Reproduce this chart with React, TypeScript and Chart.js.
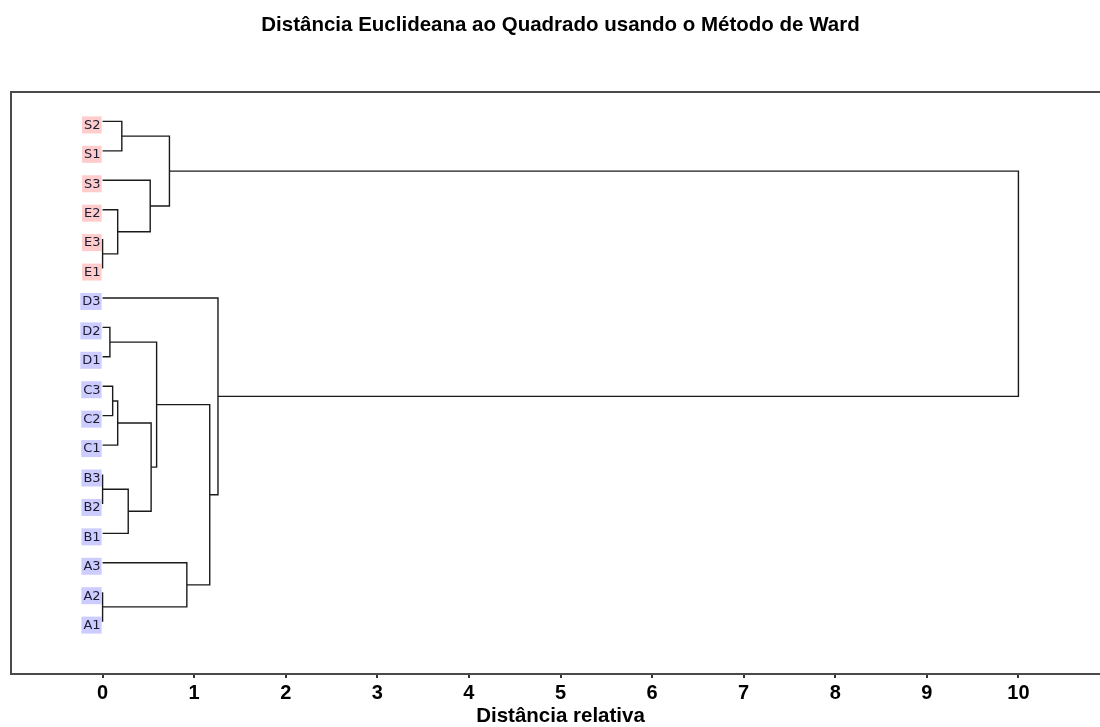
import React, { useEffect, useRef } from 'react';
import { Chart, registerables } from 'chart.js';

Chart.register(...registerables);

const chartTitle = 'Distância Euclideana ao Quadrado usando o Método de Ward';
const axisTitle = 'Distância relativa';

// Leaves in dendrogram order, top to bottom
const leafLabels = ['S2', 'S1', 'S3', 'E2', 'E3', 'E1', 'D3', 'D2', 'D1', 'C3', 'C2', 'C1', 'B3', 'B2', 'B1', 'A3', 'A2', 'A1'];
// 0 = S/E group, 1 = A–D group
const leafGroups = [0, 0, 0, 0, 0, 0, 1, 1, 1, 1, 1, 1, 1, 1, 1, 1, 1, 1];
const groupFill = ['#ffcccc', '#ccccff'];

// Ward merge table: negative = leaf -(index+1), positive = earlier merge (1-based)
const mergeLeft = [-5, -13, -17, -8, -10, -4, 5, -1, 2, -3, 7, 4, 8, -16, 12, -7, 13];
const mergeRight = [-6, -14, -18, -9, -11, 1, -12, -2, -15, 6, 9, 11, 10, 3, 14, 15, 16];
const mergeHeight = [0, 0, 0, 0.08, 0.11, 0.165, 0.165, 0.21, 0.28, 0.52, 0.53, 0.59, 0.73, 0.92, 1.17, 1.26, 10.0];

const xTickValues = [0, 1, 2, 3, 4, 5, 6, 7, 8, 9, 10];

const FONT = '"Liberation Sans", Arial, sans-serif';
const LINE_COLOR = '#1a1a1a';
const FRAME_COLOR = '#4a4a4a';

// Build one U-shaped link per merge; a cluster sits midway between its children
function buildLinks() {
  const nodeY: number[] = [];
  const nodeH: number[] = [];
  const ref = (r: number) => (r < 0 ? { y: -r - 1, h: 0 } : { y: nodeY[r - 1], h: nodeH[r - 1] });
  return mergeHeight.map((H, i) => {
    const l = ref(mergeLeft[i]);
    const r = ref(mergeRight[i]);
    nodeY[i] = (l.y + r.y) / 2;
    nodeH[i] = H;
    return {
      data: [
        { x: l.h, y: l.y },
        { x: H, y: l.y },
        { x: H, y: r.y },
        { x: r.h, y: r.y },
      ],
      showLine: true,
      borderColor: LINE_COLOR,
      borderWidth: 1.4,
      pointRadius: 0,
      pointHoverRadius: 0,
      tension: 0,
      fill: false,
    };
  });
}

// Coloured leaf labels just left of distance 0
const leafLabelPlugin = {
  id: 'leafLabels',
  beforeDatasetsDraw(chart: any) {
    const { ctx, scales } = chart;
    const xs = scales.x;
    const ys = scales.y;
    const x0 = xs.getPixelForValue(0);
    ctx.save();
    ctx.font = '13px "DejaVu Sans", sans-serif';
    ctx.textAlign = 'right';
    ctx.textBaseline = 'middle';
    leafLabels.forEach((lab, i) => {
      const py = ys.getPixelForValue(i) + 3.5;
      const w = ctx.measureText(lab).width + 3;
      ctx.fillStyle = groupFill[leafGroups[i]];
      ctx.fillRect(x0 - 1 - w, py - 8.5, w, 17);
      ctx.fillStyle = '#1b1b33';
      ctx.fillText(lab, x0 - 2, py + 0.5);
    });
    ctx.restore();
  },
};

export default function App() {
  const canvasRef = useRef<HTMLCanvasElement | null>(null);

  useEffect(() => {
    if (!canvasRef.current) return;
    const chart = new Chart(canvasRef.current, {
      type: 'scatter',
      data: { datasets: buildLinks() as any },
      options: {
        responsive: false,
        animation: false,
        devicePixelRatio: 1,
        layout: { padding: { left: 0, right: 10, top: 0, bottom: 0 } },
        plugins: {
          legend: { display: false },
          tooltip: { enabled: false },
          title: {
            display: true,
            text: chartTitle,
            fullSize: false,
            color: '#000',
            font: { family: FONT, size: 20.5, weight: 'bold', lineHeight: 1.2 },
            padding: { top: 13, bottom: 54.4 },
          },
        },
        scales: {
          x: {
            type: 'linear',
            position: 'bottom',
            min: -1,
            max: 11,
            afterBuildTicks: (s: any) => {
              s.ticks = xTickValues.map((v) => ({ value: v }));
            },
            afterFit: (s: any) => {
              s.height = 53;
            },
            grid: {
              display: true,
              drawOnChartArea: false,
              drawTicks: true,
              tickLength: 4,
              color: '#333',
              lineWidth: 2,
            },
            border: { display: true, color: FRAME_COLOR, width: 2 },
            ticks: {
              color: '#000',
              padding: 3,
              autoSkip: false,
              maxRotation: 0,
              font: { family: FONT, size: 20, weight: 'bold' },
            },
            title: {
              display: true,
              text: axisTitle,
              color: '#000',
              padding: 0,
              font: { family: FONT, size: 20.5, weight: 'bold', lineHeight: 1 },
            },
          },
          xTop: {
            type: 'linear',
            position: 'top',
            min: -1,
            max: 11,
            afterFit: (s: any) => {
              s.height = 0;
            },
            ticks: { display: false },
            grid: { display: false, drawTicks: false },
            border: { display: true, color: FRAME_COLOR, width: 2 },
          },
          y: {
            type: 'linear',
            reverse: true,
            min: -1,
            max: 18.78,
            afterFit: (s: any) => {
              s.width = 11;
            },
            ticks: { display: false },
            grid: { display: false, drawTicks: false },
            border: { display: true, color: FRAME_COLOR, width: 2 },
          },
        },
      } as any,
      plugins: [leafLabelPlugin],
    });
    return () => chart.destroy();
  }, []);

  return (
    <div
      style={{
        position: 'fixed',
        left: 0,
        top: 0,
        width: 1100,
        height: 727,
        overflow: 'hidden',
        background: '#fff',
      }}
    >
      <canvas ref={canvasRef} width={1120} height={727} style={{ display: 'block' }} />
    </div>
  );
}
